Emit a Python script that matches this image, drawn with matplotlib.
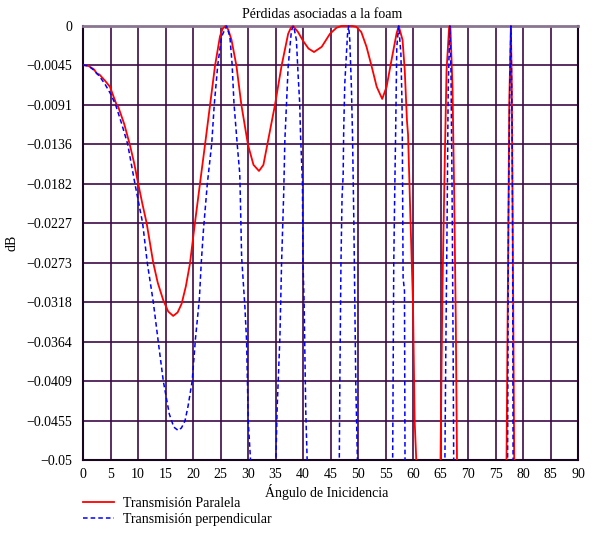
import numpy as np
import matplotlib
matplotlib.use("Agg")
import matplotlib.pyplot as plt
from matplotlib.patches import Rectangle

plt.rcParams['font.family'] = ['Liberation Serif', 'DejaVu Serif']
plt.rcParams['font.size'] = 10

# Transmision paralela (values below -0.05 leave the plot)
x_par = [0, 1, 2, 2.5, 3, 4, 4.9, 6.12, 6.4, 7.5, 8.54, 9.3, 10.05, 10.8, 11.57, 12.2,
         12.78, 13.6, 14.6, 15.5, 16.4, 17.2, 17.93, 18.7, 19.44, 20.35, 21.26, 22.2,
         23.1, 24.0, 24.9, 25.4, 25.9, 26.4, 27.0, 27.9, 28.8, 30.0, 31.0, 32.0, 32.8,
         33.5, 34.9, 36.1, 37.3, 37.8, 38.2, 39.1, 40.0, 41.0, 42.0, 43.4, 44.9, 46.1,
         47.0, 48.0, 49.0, 49.7, 50.6, 51.55, 52.46, 53.4, 54.4, 55.2, 56.1, 57.0, 57.4,
         58.1, 58.5, 58.9, 59.1, 59.6, 60.0, 60.3, 60.6, 60.8, 62.5, 64.8, 65.0, 65.36,
         65.8, 66.1, 66.57, 66.7, 66.8, 67.18, 67.47, 67.78, 68.0, 68.2, 72.5, 76.8,
         77.0, 77.3, 77.5, 77.8, 77.96, 78.2, 78.4, 78.6, 90]
y_par = [-0.0045, -0.0046, -0.0050, -0.00547, -0.0056, -0.0063, -0.0070, -0.0091, -0.0093,
         -0.0113, -0.01374, -0.0158, -0.0182, -0.0205, -0.0227, -0.0251,
         -0.0273, -0.0296, -0.0316, -0.0329, -0.0334, -0.0330, -0.0320, -0.0300, -0.0274,
         -0.0227, -0.0182, -0.0136, -0.0091, -0.0046, -0.0012, -0.0003, 0.0, -0.0004,
         -0.0016, -0.0046, -0.0091, -0.0137, -0.0160, -0.0167, -0.0160, -0.0137, -0.0091,
         -0.0046, -0.0009, -0.0002, 0.0, -0.0007, -0.0017, -0.0026, -0.0030, -0.0024,
         -0.0009, -0.0002, 0.0, 0.0, 0.0, -0.0001, -0.0007, -0.0024, -0.0046, -0.0070,
         -0.0084, -0.0070, -0.0039, -0.0009, 0.0, -0.0016, -0.0051, -0.0109, -0.0125,
         -0.0236, -0.0320, -0.0455, -0.0501, -0.060, -0.10, -0.060, -0.0501, -0.0301,
         -0.0147, -0.0051, -0.0001, 0.0, -0.0001, -0.0070, -0.0186, -0.0340, -0.0501,
         -0.060, -0.10, -0.060, -0.0501, -0.0262, -0.0089, 0.0, -0.0070, -0.0301,
         -0.0501, -0.060, -0.10]

# Transmision perpendicular
x_per = [0, 1, 2, 3, 4, 5, 5.94, 7, 8.12, 9.45, 10.84, 11.69, 12.78, 13.69, 14.6, 15.69,
         16.5, 17.3, 17.9, 18.54, 19.1, 19.85, 20.45, 21.15, 21.5, 21.9, 22.6, 23.4,
         23.86, 24.5, 25.2, 26.1, 26.7, 27.1, 27.45, 28.05, 28.5, 28.6, 28.84, 29.44,
         29.75, 30.04, 30.47, 30.7, 33.0, 34.9, 35.07, 35.3, 35.8, 36.1, 36.5, 36.7,
         37.3, 37.9, 38.3, 38.8, 39.1, 39.4, 39.55, 39.9, 40.0, 40.2, 40.5, 40.76, 41.0,
         44.0, 46.5, 46.6, 46.7, 46.9, 47.1, 47.3, 47.4, 47.6, 48.1, 48.3, 48.5, 48.8,
         49.0, 49.25, 49.6, 49.9, 50.1, 53.0, 56.2, 56.3, 56.5, 56.7, 56.85, 57.05, 57.4,
         57.8, 58.0, 58.05, 58.2, 58.45, 58.55, 58.7, 62.0, 65.7, 65.8, 65.96, 66.2,
         66.4, 66.7, 66.9, 67.1, 67.3, 67.4, 67.5, 72.0, 77.1, 77.2, 77.35, 77.6, 77.8,
         78.0, 78.1, 78.2, 78.3, 90]
y_per = [-0.0045, -0.0046, -0.0051, -0.0058, -0.0067, -0.0078, -0.0091, -0.0112, -0.0136,
         -0.0182, -0.0227, -0.0273, -0.0318, -0.0364, -0.0409, -0.0447,
         -0.0462, -0.0466, -0.0463, -0.0455, -0.0438, -0.0409, -0.0360, -0.0315, -0.0273,
         -0.0235, -0.0182, -0.0136, -0.0091, -0.0045, -0.0012, 0.0, -0.0012, -0.0043,
         -0.0089, -0.0137, -0.0170, -0.0195, -0.0266, -0.0324, -0.0364, -0.0455, -0.0501,
         -0.060, -0.10, -0.060, -0.0501, -0.0440, -0.0359, -0.0274, -0.0191, -0.0132,
         -0.0047, -0.0005, 0.0, -0.0016, -0.0055, -0.0089, -0.0125, -0.0182, -0.0274,
         -0.0318, -0.0443, -0.0501, -0.060, -0.10, -0.060, -0.0501, -0.0409, -0.0274,
         -0.0197, -0.0172, -0.0120, -0.0066, -0.0009, 0.0, -0.0016, -0.0070, -0.0125,
         -0.0228, -0.0413, -0.0501, -0.060, -0.10, -0.060, -0.0501, -0.0274, -0.0182,
         -0.0120, -0.0024, 0.0, -0.0032, -0.0089, -0.0120, -0.0290, -0.0305, -0.0501,
         -0.060, -0.10, -0.060, -0.0501, -0.0378, -0.0224, -0.0070, 0.0, -0.0051,
         -0.0186, -0.0378, -0.0501, -0.060, -0.10, -0.060, -0.0501, -0.0224, -0.0070,
         0.0, -0.0100, -0.0224, -0.0501, -0.060, -0.10]

xticks = list(range(0, 91, 5))
ytick_labels = ['0', '\u22120.0045', '\u22120.0091', '\u22120.0136', '\u22120.0182',
                '\u22120.0227', '\u22120.0273', '\u22120.0318', '\u22120.0364',
                '\u22120.0409', '\u22120.0455', '\u22120.05']

fig = plt.figure(figsize=(5.97, 5.33), dpi=100)
ax = fig.add_axes([83/597, 1-460/533, 495/597, 434/533])

grid_c = '#3d0a47'
l1, = ax.plot(x_par, y_par, color='#ff0000', lw=1.3, label='Transmisión Paralela', zorder=3)
l2, = ax.plot(x_per, y_per, color='#0000ff', lw=1.1, ls=(0, (3, 2)),
              label='Transmisión perpendicular', zorder=4)
clip = Rectangle((0, 0), 1, 1.01, transform=ax.transAxes, visible=False)
ax.add_patch(clip)
l1.set_clip_path(clip)
l2.set_clip_path(clip)

ax.set_xlim(0, 90)
ax.set_ylim(-0.05, 0)
ax.set_xticks(xticks)
ax.set_yticks(np.linspace(0, -0.05, 12))
ax.set_yticklabels(ytick_labels)
ax.tick_params(length=0, labelsize=10, colors='black')
ax.tick_params(axis='y', pad=8)
ax.tick_params(axis='x', pad=6)
ax.grid(True, color=grid_c, lw=1.2)
ax.set_axisbelow(True)
for s in ['left', 'bottom', 'right']:
    ax.spines[s].set_color('#1a0520')
    ax.spines[s].set_linewidth(1.5)
ax.spines['top'].set_color('#8a7590')
ax.spines['top'].set_linewidth(2)

fig.text(322/597, 1-14/533, 'Pérdidas asociadas a la foam', ha='center', va='center')
fig.text(327/597, 1-492/533, 'Ángulo de Inicidencia', ha='center', va='center')
fig.text(12/597, 1-243/533, 'dB', ha='center', va='center', rotation=90)

fig.legend(handles=[l1, l2], loc='upper left', bbox_to_anchor=(83/597, 1-497/533),
           frameon=False, borderpad=0, borderaxespad=0, handlelength=2.2,
           handletextpad=0.7, labelspacing=0.2)

fig.savefig('out.png', dpi=100)
